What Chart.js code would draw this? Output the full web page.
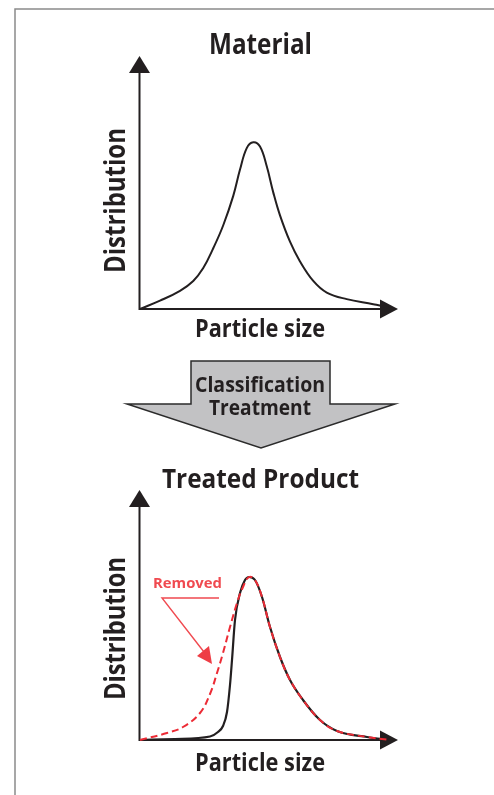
<!DOCTYPE html>
<html lang="en">
<head>
<meta charset="UTF-8">
<title>Classification Treatment</title>
<script src="https://cdn.jsdelivr.net/npm/chart.js"></script>
<style>
  body { margin: 0; background: #fff; }
  canvas { position: absolute; left: 0; top: 0; }
</style>
</head>
<body>
<canvas id="materialChart" width="494" height="795"></canvas>
<canvas id="treatedChart" width="494" height="795"></canvas>
<script>
// particle size (x) and distribution (y), arbitrary units 0-100
const materialSize = [0, 8, 16, 21.3, 25.3, 29.3, 33.3, 37.3, 40, 42.7, 45.3, 48, 50.7, 53.3, 56, 60, 64, 69.3, 74.7, 82.7, 93.3, 98.7, 100];
const materialDist = [0, 3.3, 7.2, 11.1, 16.2, 24, 33.1, 44.7, 55.1, 63.6, 65.9, 64.2, 56.4, 46.1, 37, 26.6, 18.8, 11.1, 6.5, 3.9, 1.9, 0.7, 0];

const treatedSize = [0, 14, 28, 31.2, 33.2, 34.8, 36, 36.8, 38, 40, 42, 43.6, 46, 48.8, 52, 56, 60, 65.2, 72, 78.8, 90.8, 100];
const treatedDist = [0, 0.4, 1.4, 3.2, 5.6, 11.2, 22, 32, 48, 58.8, 64, 65.2, 64, 57.2, 45.2, 33.2, 24, 16, 8, 3.6, 1.2, 0];

// what the classification took away (dashed red, the original shape)
const removedSize = [0, 10.8, 17.2, 24, 28, 30.8, 33.2, 36, 38.8, 41.2, 43.6, 46, 48.8, 52, 56, 60, 65.2, 72, 78.8, 90.8, 100];
const removedDist = [0, 2.8, 5.2, 10.8, 18.4, 26.8, 34.8, 45.2, 54.8, 61.2, 65.2, 64, 57.2, 45.2, 33.2, 24, 16, 8, 3.6, 1.2, 0];

const textColor = '#231f20';
const red = '#ec2b35';
const labelRed = '#f04a50';

function toPoints(xs, ys) {
  return xs.map((x, i) => ({ x: x, y: ys[i] }));
}

// bold text squeezed to the width it has in the picture
function fitText(ctx, text, cx, base, size, width, color, rotate) {
  ctx.save();
  ctx.font = 'bold ' + size + 'px "Open Sans", sans-serif';
  ctx.fillStyle = color;
  ctx.textAlign = 'center';
  ctx.textBaseline = 'alphabetic';
  const w = ctx.measureText(text).width;
  ctx.translate(cx, base);
  if (rotate) ctx.rotate(-Math.PI / 2);
  ctx.scale(width / w, 1);
  ctx.fillText(text, 0, 0);
  ctx.restore();
}

function drawAxes(chart) {
  const ctx = chart.ctx;
  const ox = chart.scales.x.getPixelForValue(0) - 0.5;
  const oy = chart.scales.y.getPixelForValue(0);
  const topTip = chart.chartArea.top;
  const rightTip = chart.chartArea.right + 8;
  ctx.save();
  ctx.strokeStyle = textColor;
  ctx.fillStyle = textColor;
  ctx.lineWidth = 2;
  ctx.beginPath();
  ctx.moveTo(ox, topTip + 12);
  ctx.lineTo(ox, oy);
  ctx.lineTo(rightTip - 12, oy);
  ctx.stroke();
  ctx.beginPath();
  ctx.moveTo(ox, topTip);
  ctx.lineTo(ox - 10.5, topTip + 17);
  ctx.lineTo(ox + 10.5, topTip + 17);
  ctx.closePath();
  ctx.fill();
  ctx.beginPath();
  ctx.moveTo(rightTip, oy);
  ctx.lineTo(rightTip - 18, oy - 9.5);
  ctx.lineTo(rightTip - 18, oy + 9.5);
  ctx.closePath();
  ctx.fill();
  ctx.restore();
}

const materialDecor = {
  id: 'materialDecor',
  beforeDatasetsDraw(chart) {
    const ctx = chart.ctx;
    // frame
    ctx.save();
    ctx.strokeStyle = '#8a8a8a';
    ctx.lineWidth = 1.5;
    ctx.beginPath();
    ctx.moveTo(15, 795);
    ctx.lineTo(15, 9);
    ctx.lineTo(494, 9);
    ctx.stroke();
    ctx.restore();

    drawAxes(chart);
    fitText(ctx, 'Material', 260.5, 54, 28, 103, textColor);
    fitText(ctx, 'Distribution', 125, 200.5, 28, 145, textColor, true);
    fitText(ctx, 'Particle size', 260, 337, 24.5, 130, textColor);

    // the big process arrow between the two plots
    ctx.save();
    ctx.fillStyle = '#c2c2c4';
    ctx.strokeStyle = '#2b2b2b';
    ctx.lineWidth = 1.5;
    ctx.beginPath();
    ctx.moveTo(191, 361);
    ctx.lineTo(330, 361);
    ctx.lineTo(330, 404);
    ctx.lineTo(395, 404);
    ctx.lineTo(261, 448);
    ctx.lineTo(127, 404);
    ctx.lineTo(191, 404);
    ctx.closePath();
    ctx.fill();
    ctx.stroke();
    ctx.restore();
    fitText(ctx, 'Classification', 260, 392, 22, 130, textColor);
    fitText(ctx, 'Treatment', 260, 415, 22, 102, textColor);
  }
};

const treatedDecor = {
  id: 'treatedDecor',
  beforeDatasetsDraw(chart) {
    const ctx = chart.ctx;
    drawAxes(chart);
    fitText(ctx, 'Treated Product', 260.5, 488, 27, 197, textColor);
    fitText(ctx, 'Distribution', 125, 628.5, 28, 143, textColor, true);
    fitText(ctx, 'Particle size', 260, 770.5, 24.5, 130, textColor);
  },
  afterDatasetsDraw(chart) {
    const ctx = chart.ctx;
    fitText(ctx, 'Removed', 187.5, 588, 15, 69, labelRed);
    ctx.save();
    ctx.strokeStyle = labelRed;
    ctx.fillStyle = '#ee3d45';
    ctx.lineWidth = 1.4;
    ctx.beginPath();
    ctx.moveTo(219, 598);
    ctx.lineTo(162, 598);
    ctx.lineTo(204, 652);
    ctx.stroke();
    ctx.beginPath();
    ctx.moveTo(212, 664);
    ctx.lineTo(197, 656);
    ctx.lineTo(209, 646);
    ctx.closePath();
    ctx.fill();
    ctx.restore();
  }
};

function plotOptions(padding) {
  return {
    responsive: false,
    animation: false,
    layout: { padding: padding },
    plugins: { legend: { display: false }, tooltip: { enabled: false } },
    scales: {
      x: { type: 'linear', min: 0, max: 100, display: false },
      y: { type: 'linear', min: 0, max: 100, display: false }
    }
  };
}

new Chart(document.getElementById('materialChart'), {
  type: 'line',
  data: {
    datasets: [{
      label: 'Material',
      data: toPoints(materialSize, materialDist),
      borderColor: textColor,
      borderWidth: 2,
      pointRadius: 0,
      tension: 0.4,
      clip: 6
    }]
  },
  options: plotOptions({ left: 140, right: 104, top: 56, bottom: 486 }),
  plugins: [materialDecor]
});

new Chart(document.getElementById('treatedChart'), {
  type: 'line',
  data: {
    datasets: [
      {
        label: 'Removed',
        data: toPoints(removedSize, removedDist),
        borderColor: red,
        borderWidth: 2,
        borderDash: [7, 4],
        pointRadius: 0,
        tension: 0.4,
        clip: 6
      },
      {
        label: 'Treated Product',
        data: toPoints(treatedSize, treatedDist),
        borderColor: textColor,
        borderWidth: 2.2,
        pointRadius: 0,
        cubicInterpolationMode: 'monotone',
        clip: 6
      }
    ]
  },
  options: plotOptions({ left: 140, right: 104, top: 490, bottom: 55 }),
  plugins: [treatedDecor]
});
</script>
</body>
</html>
